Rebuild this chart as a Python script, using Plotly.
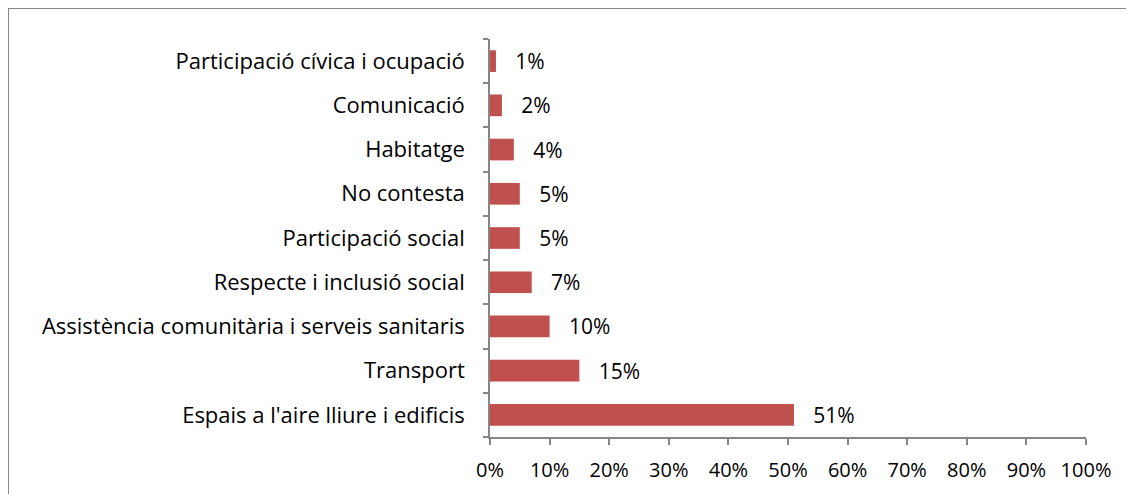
import plotly.graph_objects as go

categories = [
    "Espais a l'aire lliure i edificis",
    "Transport",
    "Assistència comunitària i serveis sanitaris",
    "Respecte i inclusió social",
    "Participació social",
    "No contesta",
    "Habitatge",
    "Comunicació",
    "Participació cívica i ocupació",
]
values = [51, 15, 10, 7, 5, 5, 4, 2, 1]
x_ticks = [0, 10, 20, 30, 40, 50, 60, 70, 80, 90, 100]
x_tick_labels = [f"{v}%" for v in x_ticks]

W, H = 1134, 494
OFF = 8  # browser body margin
L, R, T, B = 490 - OFF, 1086 - OFF, 39 - OFF, 437 - OFF

FONT = "Open Sans"
FS_Y = 22
FS_X = 20
FS_LBL = 21
fig = go.Figure(go.Bar(
    y=categories, x=values, orientation="h",
    marker=dict(color="#C0504D", line=dict(width=0)),
    text=[f"{v}%" for v in values],
    texttemplate="   %{text}",
    textposition="outside",
    constraintext="none",
    textfont=dict(family=FONT, size=FS_LBL, color="#000000"),
    cliponaxis=False,
))

pw, ph = R - L, B - T
def px(x):
    return (x - OFF - L) / pw
def py(y):
    return (B - (y - OFF)) / ph

fig.add_shape(type="rect", xref="paper", yref="paper",
              x0=px(8), x1=px(1150), y0=py(510), y1=py(8),
              line=dict(color="#878787", width=2), fillcolor="rgba(0,0,0,0)", layer="below")

fig.update_layout(
    width=W, height=H,
    margin=dict(l=L, r=W - R, t=T, b=H - B, pad=0),
    paper_bgcolor="white", plot_bgcolor="white",
    bargap=0.51,
    showlegend=False,
    font=dict(family=FONT, size=FS_X, color="#000000"),
    xaxis=dict(
        range=[0, 100], tickvals=x_ticks, ticktext=x_tick_labels,
        showgrid=False, zeroline=False,
        showline=True, linecolor="#868686", linewidth=1.5,
        ticks="outside", ticklen=6, tickcolor="#868686", tickwidth=1.5,
        ticklabelstandoff=8,
        tickfont=dict(family=FONT, size=FS_X, color="#000000"),
        fixedrange=True,
    ),
    yaxis=dict(
        type="category", tickson="boundaries",
        showgrid=False, zeroline=False,
        showline=True, linecolor="#868686", linewidth=1.5,
        ticks="outside", ticklen=5, tickcolor="#868686", tickwidth=1.5,
        ticklabelstandoff=19,
        tickfont=dict(family=FONT, size=FS_Y, color="#000000"),
        fixedrange=True,
    ),
)

fig.write_html("out.html")
